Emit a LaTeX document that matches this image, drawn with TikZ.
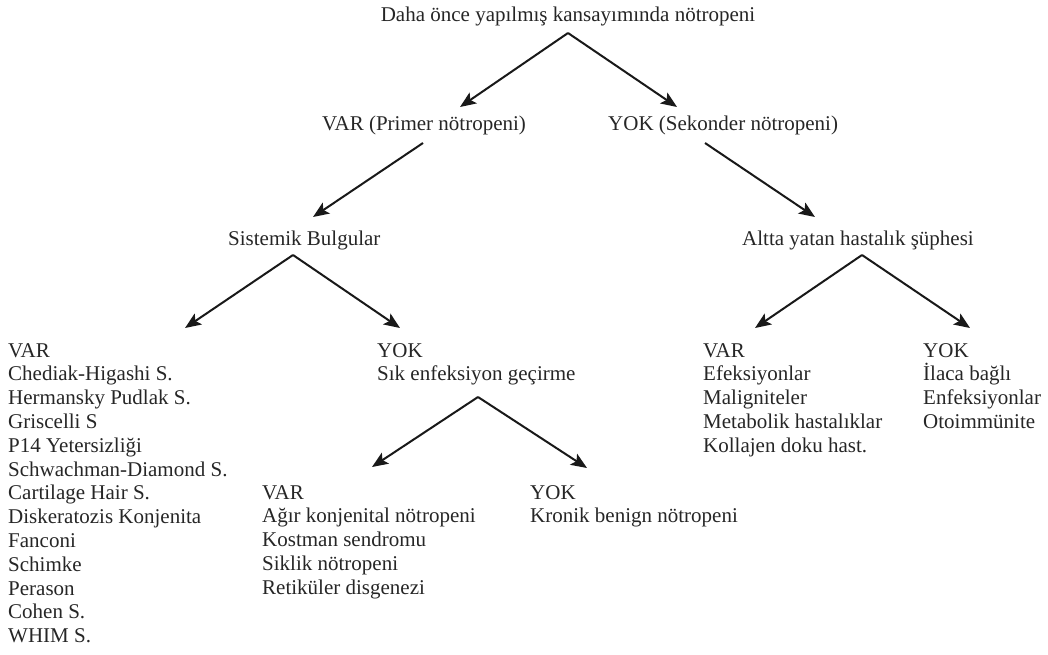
\documentclass[tikz,border=0pt]{standalone}
\usepackage{fontspec}
\setmainfont{Liberation Serif}
\usetikzlibrary{arrows.meta}
\tikzset{
  lbl/.style={inner sep=0pt, font=\fontsize{21}{23.8}\selectfont, align=left, text=black!85},
  arr/.style={line width=2pt, black!90, -{Stealth[length=16pt,width=13pt,inset=3.5pt]}, shorten >=0pt}
}
\begin{document}
\begin{tikzpicture}[x=1pt,y=-1pt]
\useasboundingbox (0,0) rectangle (1048,654);
% texts (multi-line nodes are placed by the baseline of their last line)
\node[lbl,anchor=base] (title) at (568,21) {Daha önce yapılmış kansayımında nötropeni};
\node[lbl,anchor=base west] (var1) at (322,130) {VAR (Primer nötropeni)};
\node[lbl,anchor=base west] (yok1) at (608,130) {YOK (Sekonder nötropeni)};
\node[lbl,anchor=base west] (sis) at (228,245) {Sistemik Bulgular};
\node[lbl,anchor=base west] (alt) at (742,245) {Altta yatan hastalık şüphesi};
\node[lbl,anchor=base west] (lvar) at (8,642.6) {VAR\\Chediak-Higashi S.\\Hermansky Pudlak S.\\Griscelli S\\P14 Yetersizliği\\Schwachman-Diamond S.\\Cartilage Hair S.\\Diskeratozis Konjenita\\Fanconi\\Schimke\\Perason\\Cohen S.\\WHIM S.};
\node[lbl,anchor=base west] (myok) at (377,380.8) {YOK\\Sık enfeksiyon geçirme};
\node[lbl,anchor=base west] (rvar) at (703,452.2) {VAR\\Efeksiyonlar\\Maligniteler\\Metabolik hastalıklar\\Kollajen doku hast.};
\node[lbl,anchor=base west] (ryok) at (923,428.4) {YOK\\İlaca bağlı\\Enfeksiyonlar\\Otoimmünite};
\node[lbl,anchor=base west] (bvar) at (262,594.2) {VAR\\Ağır konjenital nötropeni\\Kostman sendromu\\Siklik nötropeni\\Retiküler disgenezi};
\node[lbl,anchor=base west] (byok) at (530,522.8) {YOK\\Kronik benign nötropeni};
% connector end points
\coordinate (a0) at (568,33);
\coordinate (t1) at (460,107);
\coordinate (t2) at (677,107);
\coordinate (a1) at (423,143);
\coordinate (t3) at (313,217);
\coordinate (a2) at (705,143);
\coordinate (t4) at (815,217);
\coordinate (a3) at (293,255);
\coordinate (t5) at (185,328);
\coordinate (t6) at (400,328);
\coordinate (a4) at (862,255);
\coordinate (t7) at (755,328);
\coordinate (t8) at (970,328);
\coordinate (a5) at (478,397);
\coordinate (t9) at (372,467);
\coordinate (t10) at (587,468);
% connectors
\draw[arr] (a0) -- (t1);
\draw[arr] (a0) -- (t2);
\draw[arr] (a1) -- (t3);
\draw[arr] (a2) -- (t4);
\draw[arr] (a3) -- (t5);
\draw[arr] (a3) -- (t6);
\draw[arr] (a4) -- (t7);
\draw[arr] (a4) -- (t8);
\draw[arr] (a5) -- (t9);
\draw[arr] (a5) -- (t10);
\end{tikzpicture}
\end{document}
